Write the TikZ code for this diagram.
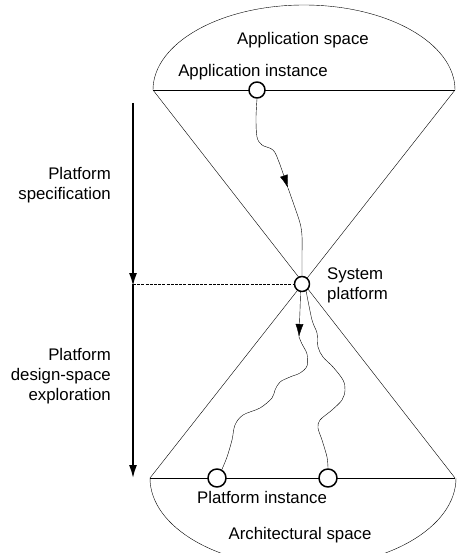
\documentclass[tikz,border=0pt]{standalone}
\usepackage{fontspec}
\setmainfont{Liberation Sans}
\usetikzlibrary{arrows.meta}
\pgfdeclarelayer{bg}
\pgfsetlayers{bg,main}
\begin{document}
\begin{tikzpicture}[x=1pt,y=-1pt, line width=1.5pt, line join=round,
  lbl/.style={font=\fontsize{16.8}{20}\selectfont, inner sep=0pt},
  inst/.style={circle, draw, fill=white, inner sep=0pt, line width=1.5pt},
  tip/.style={-{Latex[length=13pt,width=8pt]}},
  guide/.style={line width=1pt, dash pattern=on 3pt off 1.2pt}]
\useasboundingbox (0,0) rectangle (456,553);
% instance nodes
\node[inst, minimum size=16pt] (ai) at (257,90) {};
\node[inst, minimum size=15pt] (sp) at (302,284) {};
\node[inst, minimum size=18pt] (pi1) at (217,478) {};
\node[inst, minimum size=18pt] (pi2) at (328,478) {};
% frame coordinates
\coordinate (tl) at (153,90);
\coordinate (tr) at (455,90);
\coordinate (bl) at (150,478);
\coordinate (br) at (455,478);
\coordinate (vtop) at (133,103);
\coordinate (vmid) at (133,284);
\coordinate (vbot) at (133,478);
\begin{pgfonlayer}{bg}
  \begin{scope}
    \clip (0,0) rectangle (456,90);
    \draw (304,90) ellipse[x radius=151, y radius=85];
  \end{scope}
  \begin{scope}
    \clip (0,478) rectangle (456,553);
    \draw (303,478) ellipse[x radius=153, y radius=89];
  \end{scope}
  \draw (tl) -- (tr);
  \draw (bl) -- (br);
  \draw (tl) -- (br);
  \draw (tr) -- (bl);
\end{pgfonlayer}
% left process arrow
\draw[tip, line width=1.7pt] (vtop) -- ([yshift=-2pt]vmid);
\draw[tip, line width=1.7pt] (vmid) -- (vbot);
\draw[guide] (vmid) -- (sp.west);
% refinement paths
\draw[tip] plot[smooth, tension=0.55] coordinates {(ai.south) (256,118) (257,137) (262,145) (273,150) (279,162) (288,188)};
\draw plot[smooth, tension=0.55] coordinates {(288,188) (294,205) (300,223) (302,236) (302,255) (sp.north)};
\draw[tip] plot[smooth, tension=0.55] coordinates {(sp.-100) (300,310) (299,337)};
\draw plot[smooth, tension=0.55] coordinates {(299,337) (302,344) (307,354) (307,366) (300,373) (290,377) (280,382) (275,390) (272,398) (260,408) (243,415) (235,425) (232,440) (227,457) (pi1.60)};
\draw plot[smooth, tension=0.55] coordinates {(sp.-60) (312,320) (317,333) (318,347) (323,357) (333,367) (343,380) (345,390) (342,400) (332,410) (320,420) (318,428) (322,440) (327,457) (pi2.north)};
% labels
\node[lbl] (las) at (303,40) {Application space};
\node[lbl] (lai) at (253,72) {Application instance};
\node[lbl, anchor=west, align=left] (lsp) at (327,285) {System\\platform};
\node[lbl, anchor=east, align=right] (lps) at (111,185) {Platform\\specification};
\node[lbl, anchor=east, align=right] (lpd) at (111,376) {Platform\\design-space\\exploration};
\node[lbl] (lpi) at (262,497) {Platform instance};
\node[lbl] (lar) at (300,535) {Architectural space};
\end{tikzpicture}
\end{document}
